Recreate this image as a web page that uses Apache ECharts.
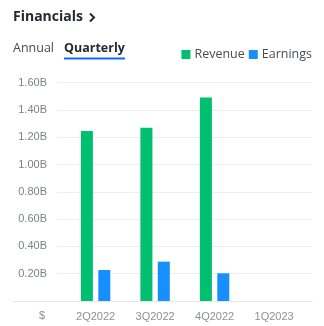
<!DOCTYPE html>
<html>
<head>
<meta charset="utf-8">
<script src="https://cdn.jsdelivr.net/npm/echarts@6/dist/echarts.min.js"></script>
<style>
html,body{margin:0;padding:0;background:#fff;}
#c{width:324px;height:326px;}
</style>
</head>
<body>
<div id="c"></div>
<script>
var categories = ['2Q2022', '3Q2022', '4Q2022', '1Q2023'];
var revenue = [1.245e9, 1.27e9, 1.49e9, null];
var earnings = [0.227e9, 0.288e9, 0.203e9, null];
var yTicks = [0, 0.2e9, 0.4e9, 0.6e9, 0.8e9, 1.0e9, 1.2e9, 1.4e9, 1.6e9];

var yMin = yTicks[0], yMax = yTicks[yTicks.length - 1], yStep = yTicks[1] - yTicks[0];
var chart = echarts.init(document.getElementById('c'), null, {renderer: 'canvas'});
var axisFont = 'Liberation Sans, Arial, sans-serif';
var uiFont = '"Open Sans", "Noto Sans", sans-serif';

chart.setOption({
  animation: false,
  legend: {
    data: ['Revenue', 'Earnings'],
    right: 7, top: 43,
    icon: 'rect', itemWidth: 9, itemHeight: 9, itemGap: 4,
    textStyle: {fontFamily: uiFont, fontSize: 12.5, color: '#464e56', padding: [0, 0, 0, -1]},
    selectedMode: false
  },
  graphic: [
    {type: 'text', left: 13, top: 10, style: {text: 'Financials', font: 'bold 14px ' + uiFont, fill: '#232a31'}},
    {type: 'polyline', shape: {points: [[90, 13.5], [94, 17.5], [90, 21.5]]}, style: {stroke: '#232a31', lineWidth: 2, fill: null}},
    {type: 'text', left: 13, top: 42, style: {text: 'Annual', font: '12.5px ' + uiFont, fill: '#464e56'}},
    {type: 'text', left: 64, top: 42, style: {text: 'Quarterly', font: 'bold 12.5px ' + uiFont, fill: '#232a31'}},
    {type: 'rect', left: 64, top: 57.5, shape: {width: 61, height: 2}, style: {fill: '#0f69ff'}},
    {type: 'text', left: 39, top: 310, style: {text: '$', font: '11px ' + axisFont, fill: '#8b9096'}}
  ],
  grid: [
    {left: 57, right: 12, top: 82.6, bottom: 25},
    {left: 65.85, right: 20.15, top: 82.6, bottom: 25},
    {left: 13, right: 12, top: 82.6, bottom: 25}
  ],
  xAxis: [
    {gridIndex: 0, type: 'value', show: false},
    {gridIndex: 1, type: 'category', data: categories,
     axisLine: {show: false}, axisTick: {show: false},
     axisLabel: {margin: 10, fontFamily: axisFont, fontSize: 11, color: '#8b9096'}},
    {gridIndex: 2, type: 'value', axisLabel: {show: false}, axisTick: {show: false}, splitLine: {show: false},
     axisLine: {show: true, lineStyle: {color: '#e6e8eb', width: 1}}}
  ],
  yAxis: [
    {gridIndex: 0, type: 'value', min: yMin, max: yMax, interval: yStep,
     axisLine: {show: false}, axisTick: {show: false},
     splitLine: {lineStyle: {color: '#eceef1', width: 1}},
     axisLabel: {margin: 10, fontFamily: axisFont, fontSize: 11, color: '#7d8288',
       formatter: function (v) { return v === 0 ? '' : (v / 1e9).toFixed(2) + 'B'; }}},
    {gridIndex: 1, type: 'value', min: yMin, max: yMax, interval: yStep, show: false},
    {gridIndex: 2, type: 'value', min: yMin, max: yMax, interval: yStep, show: false}
  ],
  series: [
    {name: 'Revenue', type: 'bar', xAxisIndex: 1, yAxisIndex: 1, data: revenue,
     barWidth: 12, barGap: '45%', itemStyle: {color: '#00bf6f'}},
    {name: 'Earnings', type: 'bar', xAxisIndex: 1, yAxisIndex: 1, data: earnings,
     barWidth: 12, barGap: '45%', itemStyle: {color: '#188fff'}}
  ]
});
</script>
</body>
</html>
